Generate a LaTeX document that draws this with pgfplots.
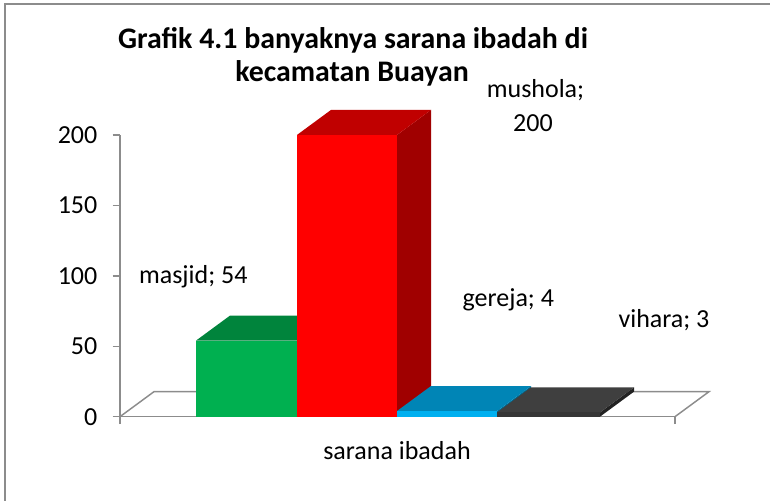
\documentclass[border=0pt]{standalone}
\usepackage{pgfplots}
\pgfplotsset{compat=1.18}
\usepackage{fontspec}
\setmainfont{Carlito}
\definecolor{framegray}{HTML}{8C8C8C}
\definecolor{axisgray}{HTML}{8C8C8C}
\definecolor{gfront}{HTML}{00B050}
\definecolor{gtop}{HTML}{00843C}
\definecolor{gside}{HTML}{007A36}
\definecolor{rfront}{HTML}{FF0000}
\definecolor{rtop}{HTML}{C00000}
\definecolor{rside}{HTML}{A00000}
\definecolor{bfront}{HTML}{00B0F0}
\definecolor{btop}{HTML}{0085B6}
\definecolor{bside}{HTML}{006A92}
\definecolor{dfront}{HTML}{363636}
\definecolor{dtop}{HTML}{3F3F3F}
\definecolor{dside}{HTML}{222222}
\newcommand{\lblfont}{\fontsize{19.5}{23}\selectfont}
\newcommand{\ttlfont}{\fontsize{22.4}{27}\selectfont\bfseries}
\begin{document}
\begin{tikzpicture}
\useasboundingbox (-90pt,-62.5pt) rectangle (487.5pt,312.5pt);
\draw[color=framegray, line width=1.5pt] (-86.25pt,-70pt) -- (-86.25pt,309.2pt) -- (495pt,309.2pt);
\begin{axis}[
  at={(0,0)}, anchor=south west,
  scale only axis, width=416.25pt, height=211.3pt,
  xmin=0, xmax=555, ymin=0, ymax=200,
  clip=false,
  axis x line*=bottom, axis y line*=left,
  axis line style={draw=axisgray, line width=1.1pt},
  tick style={draw=axisgray, line width=1.1pt},
  tick align=outside,
  major tick length=5.5pt,
  ytick={0,50,100,150,200},
  xtick={0,555}, xticklabels={},
  yticklabel style={font=\lblfont, xshift=-8pt},
  /pgf/number format/assume math mode=true,
  every axis plot/.append style={no markers, forget plot},
]
% floor
\addplot[draw=axisgray, line width=1.1pt] coordinates {(0,0) (34,17.75) (589,17.75) (555,0)};
% masjid 54
\addplot[fill=gside, draw=none] coordinates {(177,0) (211,17.75) (211,71.75) (177,54)} -- cycle;
\addplot[fill=gtop, draw=none] coordinates {(76,54) (110,71.75) (211,71.75) (177,54)} -- cycle;
\addplot[fill=gfront, draw=none] coordinates {(76,0) (177,0) (177,54) (76,54)} -- cycle;
% mushola 200
\addplot[fill=rside, draw=none] coordinates {(277,0) (311,17.75) (311,217.75) (277,200)} -- cycle;
\addplot[fill=rtop, draw=none] coordinates {(177,200) (211,217.75) (311,217.75) (277,200)} -- cycle;
\addplot[fill=rfront, draw=none] coordinates {(177,0) (277,0) (277,200) (177,200)} -- cycle;
% gereja 4
\addplot[fill=bside, draw=none] coordinates {(377,0) (411,17.75) (411,21.75) (377,4)} -- cycle;
\addplot[fill=btop, draw=none] coordinates {(277,4) (311,21.75) (411,21.75) (377,4)} -- cycle;
\addplot[fill=bfront, draw=none] coordinates {(277,0) (377,0) (377,4) (277,4)} -- cycle;
% vihara 3
\addplot[fill=dside, draw=none] coordinates {(480,0) (514,17.75) (514,20.75) (480,3)} -- cycle;
\addplot[fill=dtop, draw=none] coordinates {(377,3) (411,20.75) (514,20.75) (480,3)} -- cycle;
\addplot[fill=dfront, draw=none] coordinates {(377,0) (480,0) (480,3) (377,3)} -- cycle;
% labels
\node[anchor=base, font=\ttlfont] at (axis cs:233,261.6) {Grafik 4.1 banyaknya sarana ibadah di};
\node[anchor=base, font=\ttlfont] at (axis cs:232,238.2) {kecamatan Buayan};
\node[anchor=base, font=\lblfont] at (axis cs:415.5,226.3) {mushola;};
\node[anchor=base, font=\lblfont] at (axis cs:413,202.3) {200};
\node[anchor=base, font=\lblfont] at (axis cs:73.3,94.7) {masjid; 54};
\node[anchor=base, font=\lblfont] at (axis cs:388.3,78.1) {gereja; 4};
\node[anchor=base, font=\lblfont] at (axis cs:544,63.0) {vihara; 3};
\node[anchor=base, font=\lblfont] at (axis cs:277,-30.7) {sarana ibadah};
\end{axis}
\end{tikzpicture}
\end{document}
